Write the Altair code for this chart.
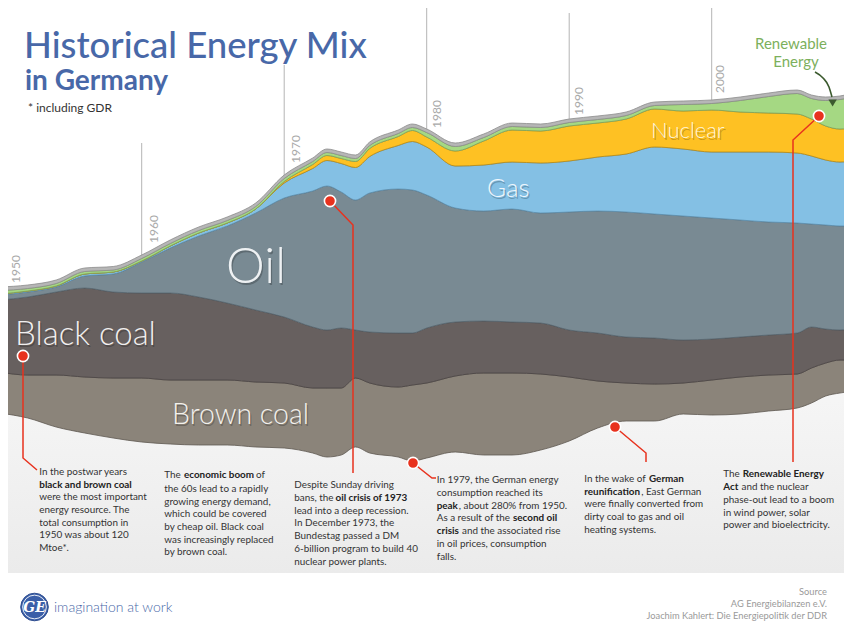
import altair as alt
import pandas as pd

# ---------------- data ----------------
years = [1950, 1952, 1954, 1956, 1958, 1960, 1962, 1964, 1966, 1968, 1970, 1972, 1973, 1974,
         1975, 1976, 1978, 1979, 1980, 1982, 1984, 1986, 1988, 1990, 1992, 1994, 1996, 1998,
         2000, 2002, 2004, 2006, 2007, 2008, 2009, 2010]
# lower edge of the stream (offset of the streamgraph)
baseline = [227, 222, 213, 207, 202, 198, 196, 195, 195, 193, 192, 187, 183, 185,
            193, 187, 183, 179, 182, 188, 185, 185, 190, 199, 212, 219, 219, 226,
            225, 226, 229, 232, 237, 244, 247, 249]
brown_coal = [41, 43, 52, 56, 60, 64, 64, 65, 65, 65, 65, 65, 69, 67,
              69, 70, 70, 76, 75, 76, 82, 82, 76, 64, 47, 38, 37, 31,
              35, 37, 36, 34, 35, 33, 33, 31]
black_coal = [72, 78, 83, 89, 86, 85, 87, 83, 77, 72, 66, 61, 58, 60,
              48, 51, 54, 52, 55, 54, 52, 51, 51, 47, 48, 46, 46, 43,
              41, 40, 40, 41, 41, 34, 30, 33]
oil = [5, 5, 5, 12, 18, 31, 45, 61, 77, 97, 119, 136, 144, 136,
       130, 139, 144, 143, 133, 114, 110, 113, 110, 118, 122, 125, 124, 124,
       121, 117, 113, 110, 103, 104, 104, 101]
gas = [1, 1, 1, 2, 2, 1, 2, 3, 3, 4, 15, 22.5, 25.5, 28.5,
       32.5, 36.5, 43.5, 48.5, 48, 42, 46, 47, 50, 51, 54, 58, 67, 67,
       66, 68, 70, 70, 68, 65, 64, 66]
nuclear = [0, 0, 0, 0, 0, 0, 0, 0, 0, 0, 1.5, 4, 5, 5,
           6, 8, 9, 11, 10, 15, 24, 32, 32, 35, 34, 35, 38, 38,
           42, 40, 39, 39, 37, 34, 33, 33]
renewable = [3.5, 2.5, 2.5, 2.5, 2, 2.5, 2.5, 2.5, 2.5, 2.5, 3, 3, 3, 3,
             3, 3, 3, 3, 4.5, 4.5, 3.5, 3.5, 3.5, 3.5, 3.5, 3.5, 3.5, 6.5,
             6.5, 11.5, 16.5, 20.5, 20.5, 25.5, 29.5, 30.5]
other = [3.5] * len(years)

source_names = ["base", "Brown coal", "Black coal", "Oil", "Gas", "Nuclear", "Renewable", "Other"]
fill_colors = ["transparent", "#8b847a", "#67605f", "#798a93", "#84c0e4", "#fec123", "#a5d883", "#b6b6b6"]
stroke_colors = ["transparent", "#5e5850", "#4a4444", "#566670", "#5d8fae", "#b88a12", "#7aa35e", "#8c8c8c"]
series = [baseline, brown_coal, black_coal, oil, gas, nuclear, renewable, other]

decade_years = [1960, 1970, 1980, 1990, 2000]
year_label_years = [1950, 1960, 1970, 1980, 1990, 2000]

# ---------------- helpers for layout (page pixels -> chart units) ----------------
W, H = 836, 622


def YR(px):
    return 1950 + (px + 0.8) / 14.25


def U(py):
    return 640 - py


xscale = alt.Scale(domain=[YR(8), YR(8 + W)], nice=False, zero=False)
yscale = alt.Scale(domain=[640 - 8 - H, 632], nice=False, zero=False)
FONT = "Lato"

rows = []
for i, yv in enumerate(years):
    for k, name in enumerate(source_names):
        rows.append({"year": yv, "source": name, "value": series[k][i], "ord": k})
stream_df = pd.DataFrame(rows)


def X_(field="x"):
    return alt.X(f"{field}:Q", scale=xscale, axis=None)


def Y_(field="y"):
    return alt.Y(f"{field}:Q", scale=yscale, axis=None)


def tdf(items):
    return pd.DataFrame({"x": [YR(p[0]) for p in items], "y": [U(p[1]) for p in items],
                         "text": [p[2] for p in items]})


def text_layer(items, **kw):
    return alt.Chart(tdf(items)).mark_text(font=FONT, **kw).encode(x=X_(), y=Y_(), text="text:N")


# ---------------- background ----------------
bg = alt.Chart(pd.DataFrame({"x": [YR(0)], "x2": [YR(860)], "y": [U(350)], "y2": [U(573)]})).mark_rect(
    clip=True,
    fill=alt.Gradient(gradient="linear",
                      stops=[alt.GradientStop(color="#f8f8f8", offset=0),
                             alt.GradientStop(color="#ebebeb", offset=1)],
                      x1=0, x2=0, y1=0, y2=1)
).encode(x=X_("x"), x2="x2:Q", y=Y_("y"), y2="y2:Q")

rule_tops = [143, 65, 0, 13, 0]
rules_df = pd.DataFrame({"x": decade_years, "y": [U(t) for t in rule_tops], "y2": [U(350)] * 5})
rules = alt.Chart(rules_df).mark_rule(color="#b4b4b4", strokeWidth=1, clip=True).encode(
    x=X_("x"), y=Y_("y"), y2="y2:Q")

# ---------------- stream ----------------
stream = alt.Chart(stream_df).mark_area(interpolate="monotone", clip=True, strokeWidth=1,
                                        strokeOpacity=0.8).encode(
    x=alt.X("year:Q", scale=xscale, axis=None),
    y=alt.Y("value:Q", stack="zero", scale=yscale, axis=None),
    color=alt.Color("source:N", scale=alt.Scale(domain=source_names, range=fill_colors), legend=None),
    stroke=alt.Stroke("source:N", scale=alt.Scale(domain=source_names, range=stroke_colors), legend=None),
    order=alt.Order("ord:Q", sort="ascending"),
)

# ---------------- year labels ----------------
ylab_pos = [(16, 283), (154, 243), (295.5, 163), (437, 128), (578.5, 115), (720, 93)]
year_labels = text_layer([(p[0], p[1], str(yv)) for p, yv in zip(ylab_pos, year_label_years)],
                         angle=270, align="left", baseline="middle", fontSize=12, color="#a9a9a9")

# ---------------- area labels ----------------
area_labels = [
    (226, 283, "Oil", 49, "#eef1f3"),
    (15, 345, "Black coal", 33, "#f1efef"),
    (172, 424, "Brown coal", 28.5, "#f3f1ed"),
    (487, 197, "Gas", 26, "#eef6fc"),
    (651, 138, "Nuclear", 22, "#fff5da"),
]
area_layers = []
for px, py, t, fs, col in area_labels:
    area_layers.append(text_layer([(px + 1.2, py + 1.5, t)], fontSize=fs, fontWeight=300,
                                  color="#000000", opacity=0.22, align="left", baseline="alphabetic"))
    area_layers.append(text_layer([(px, py, t)], fontSize=fs, fontWeight=300, color=col,
                                  align="left", baseline="alphabetic"))

# ---------------- titles ----------------
title = text_layer([(24, 57.5, "Historical Energy Mix")], fontSize=36.5, fontWeight=500, color="#4868a8",
                   align="left", baseline="alphabetic")
subtitle = text_layer([(25, 90, "in Germany")], fontSize=28, fontWeight="bold", color="#4868a8",
                      align="left", baseline="alphabetic")
note = text_layer([(28, 112, "* including GDR")], fontSize=12, color="#333333", align="left",
                  baseline="alphabetic")

renew = text_layer([(791, 44, "Renewable"), (796, 62, "Energy")], fontSize=15, color="#7cb05c",
                   align="center", baseline="middle")
arrow_pts = [(815, 72), (823, 78), (829, 87), (832, 97)]
arrow_df = pd.DataFrame({"x": [YR(p[0]) for p in arrow_pts], "y": [U(p[1]) for p in arrow_pts],
                         "seq": list(range(len(arrow_pts)))})
arrow = alt.Chart(arrow_df).mark_line(color="#3b5a2e", strokeWidth=1.6, interpolate="monotone").encode(
    x=X_(), y=Y_(), order="seq:Q")
arrow_head = alt.Chart(pd.DataFrame({"x": [YR(832.6)], "y": [U(103)]})).mark_point(
    shape="triangle-down", filled=True, size=70, color="#3b5a2e", opacity=1).encode(x=X_(), y=Y_())

# ---------------- annotations ----------------
RED = "#e8321e"
leaders = [
    [(23, 356), (23, 458), (37, 470)],
    [(330, 201), (353, 225), (353, 473)],
    [(413, 463), (432, 478), (436, 478)],
    [(615, 427), (646, 453), (646, 462)],
    [(819, 116), (793, 140), (793, 462)],
]
lrows = []
for i, path in enumerate(leaders):
    for j, (px, py) in enumerate(path):
        lrows.append({"id": i, "seq": j, "x": YR(px), "y": U(py)})
leader_layer = alt.Chart(pd.DataFrame(lrows)).mark_line(color=RED, strokeWidth=1.5).encode(
    x=X_(), y=Y_(), detail="id:N", order="seq:Q")
dots_df = pd.DataFrame({"x": [YR(p[0][0]) for p in leaders], "y": [U(p[0][1]) for p in leaders]})
dot_layer = alt.Chart(dots_df).mark_point(shape="circle", filled=True, size=125, fill=RED,
                                          stroke="white", strokeWidth=1.6, opacity=1).encode(x=X_(), y=Y_())

normal_txt = [
    (39.3, 472, "In the postwar years"),
    (39.3, 497, "were the most important"),
    (39.3, 510, "energy resource. The"),
    (39.3, 522.5, "total consumption in"),
    (39.3, 535, "1950 was about 120"),
    (39.3, 548, "Mtoe*."),
    (164.3, 475, "The"), (256, 475, "of"),
    (164.3, 488.5, "the 60s lead to a rapidly"),
    (164.3, 501.5, "growing energy demand,"),
    (164.3, 514, "which could be covered"),
    (164.3, 527, "by cheap oil. Black coal"),
    (164.3, 539.5, "was increasingly replaced"),
    (164.3, 552, "by brown coal."),
    (294.3, 484.5, "Despite Sunday driving"),
    (294.3, 497.5, "bans, the"),
    (294.3, 510.5, "lead into a deep recession."),
    (294.3, 523, "In December 1973, the"),
    (294.3, 536, "Bundestag passed a DM"),
    (294.3, 548.5, "6-billion program to build 40"),
    (294.3, 561.5, "nuclear power plants."),
    (436.7, 480, "In 1979, the German energy"),
    (436.7, 493, "consumption reached its"),
    (458.8, 505.5, ", about 280% from 1950."),
    (436.7, 518, "As a result of the"),
    (462, 531, "and the associated rise"),
    (436.7, 544, "in oil prices, consumption"),
    (436.7, 556.5, "falls."),
    (584.3, 479, "In the wake of"),
    (641.2, 492, ", East German"),
    (584.3, 504, "were finally converted from"),
    (584.3, 517, "dirty coal to gas and oil"),
    (584.3, 529.5, "heating systems."),
    (723.3, 474, "The"),
    (741.5, 487, "and the nuclear"),
    (723.3, 500, "phase-out lead to a boom"),
    (723.3, 512.5, "in wind power, solar"),
    (723.3, 525, "power and bioelectricity."),
]
bold_txt = [
    (39.3, 484.5, "black and brown coal"),
    (184, 475, "economic boom"),
    (335.5, 497.5, "oil crisis of 1973"),
    (436.7, 505.5, "peak"),
    (513, 518, "second oil"),
    (436.7, 531, "crisis"),
    (649, 479, "German"),
    (584.3, 492, "reunification"),
    (742.8, 474, "Renewable Energy"),
    (723.3, 487, "Act"),
]
ann_normal = text_layer(normal_txt, fontSize=9.9, color="#333333", align="left", baseline="middle")
ann_bold = text_layer(bold_txt, fontSize=9.9, fontWeight="bold", color="#222222", align="left",
                      baseline="middle")

# ---------------- footer ----------------
source_txt = text_layer([(827, 592, "Source"), (827, 603.5, "AG Energiebilanzen e.V."),
                         (827, 616, "Joachim Kahlert: Die Energiepolitik der DDR")],
                        fontSize=9.3, color="#9a9a9a", align="right", baseline="middle")
imagination = text_layer([(54, 608, "imagination at work")], fontSize=14, fontWeight=300,
                         color="#4868a8", align="left", baseline="middle")
logo_df = pd.DataFrame({"x": [YR(34.5)], "y": [U(607)]})
logo = alt.Chart(logo_df).mark_point(shape="circle", filled=True, size=760, fill="#3b5fa8",
                                     stroke="#2e4d8f", strokeWidth=1, opacity=1).encode(x=X_(), y=Y_())
logo_ring = alt.Chart(logo_df).mark_point(shape="circle", filled=False, size=560, stroke="white",
                                          strokeWidth=1, opacity=0.9).encode(x=X_(), y=Y_())
logo_txt = alt.Chart(pd.DataFrame({"x": [YR(34.5)], "y": [U(608)], "text": ["GE"]})).mark_text(
    font="DejaVu Serif", fontStyle="italic", fontWeight="bold", fontSize=14, color="white",
    align="center", baseline="middle").encode(x=X_(), y=Y_(), text="text:N")

chart = alt.layer(
    bg, rules, stream, *area_layers, year_labels, title, subtitle, note, renew, arrow, arrow_head,
    leader_layer, dot_layer, ann_normal, ann_bold, source_txt, imagination, logo, logo_ring, logo_txt
).properties(
    width=W, height=H, padding=0, autosize=alt.AutoSizeParams(type="none"), background="white"
).configure_view(stroke=None)

chart.save("out.html", embed_options={"renderer": "svg", "actions": False})
